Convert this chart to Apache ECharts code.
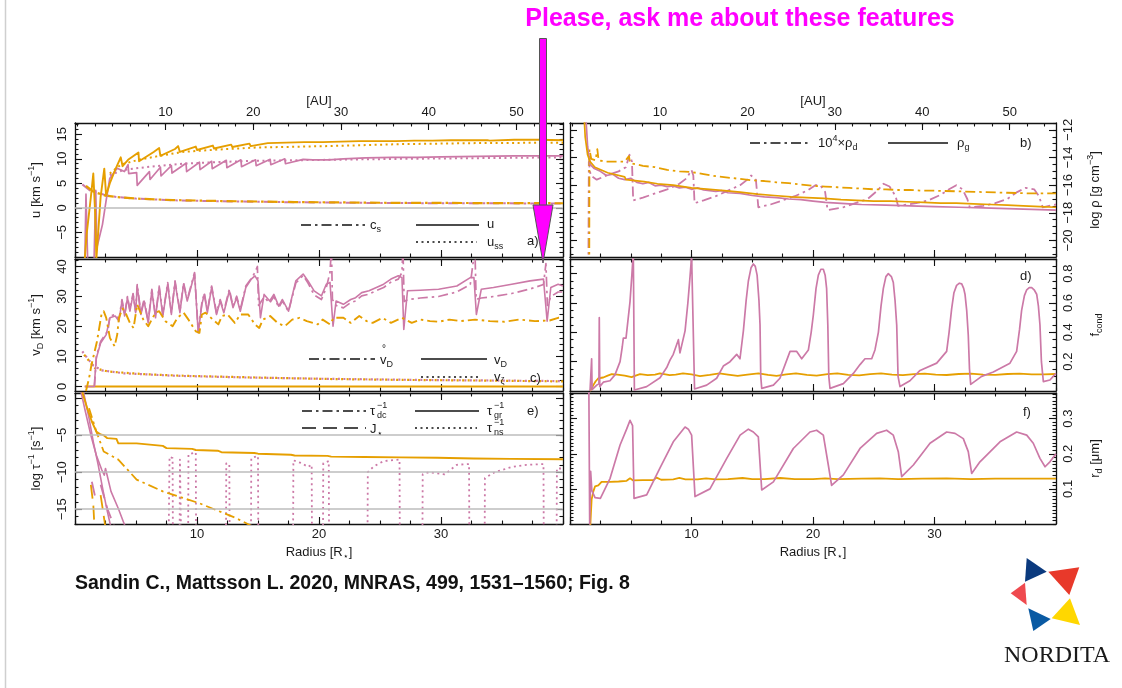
<!DOCTYPE html>
<html>
<head>
<meta charset="utf-8">
<script src="https://cdn.jsdelivr.net/npm/echarts@6/dist/echarts.min.js"></script>
<style>
html,body{margin:0;padding:0;background:#fff;}
#chart{width:1122px;height:688px;}
</style>
</head>
<body>
<div id="chart"></div>
<script>
// ---------- colours and fonts ----------
const ORANGE = '#E69F00';
const PINK = '#CC79A7';
const FONT = '"Liberation Sans", Arial, Helvetica, sans-serif';
const INK = '#1a1a1a';

// ---------- axis ranges and tick labels ----------
const radiusRange = [0, 40];
const radiusTicks = [10, 20, 30];
const auRange = [-0.3, 55.3];
const auTicks = [10, 20, 30, 40, 50];
const uRange = [-10, 17.3];       const uTicks = [-5, 0, 5, 10, 15];
const rhoRange = [-21.2, -11.5];  const rhoTicks = [-20, -18, -16, -14, -12];
const vdRange = [-1.5, 42.5];     const vdTicks = [0, 10, 20, 30, 40];
const fcondRange = [0, 0.9];      const fcondTicks = [0.2, 0.4, 0.6, 0.8];
const tauRange = [-17, 0.7];      const tauTicks = [0, -5, -10, -15];
const rdRange = [0, 0.373];       const rdTicks = [0.1, 0.2, 0.3];
const uRefLines = [0];
const tauRefLines = [-5, -10, -15];

// ---------- a) gas velocity ----------
const uOrange = [[0.75,-12],[0.95,-5.5],[1.3,2.2],[1.5,7],[1.65,-1],[1.75,-10.5],[2.1,2.2],[2.4,8],[2.55,2.5],[2.85,5],[3.3,7.8],[3.75,10.3],[3.9,8.5],[4.35,9.8],[5.2,11.3],[5.25,9.5],[6.45,11.4],[6.9,12.2],[7.0,10.6],[8.2,12],[8.45,12.6],[8.6,11.4],[9.9,12.5],[10.0,11.8],[11.3,12.7],[11.4,12.1],[12.8,12.9],[12.9,12.4],[14.3,13.1],[14.4,12.6],[15.8,13.2],[15.9,12.8],[17.3,13.3],[17.4,12.9],[18.8,13.4],[18.9,13.0],[20.3,13.4],[20.4,13.1],[21.8,13.5],[21.9,13.2],[23.3,13.6],[23.4,13.3],[24.8,13.6],[24.9,13.4],[26.3,13.6],[26.4,13.4],[27.8,13.7],[27.9,13.5],[29.3,13.7],[29.4,13.5],[30.8,13.8],[30.9,13.6],[32.3,13.8],[32.4,13.6],[33.8,13.8],[34.0,13.7],[36,13.9],[38,13.9],[40,13.8]];
const uPink = [[0.8,-12],[0.9,2.8],[1.05,-12],[1.55,-12],[1.7,3.6],[1.8,-8],[2.25,-3.4],[2.55,1.5],[2.85,6],[3.45,8.1],[4.05,7.4],[4.35,8.8],[4.4,7],[5.05,7.2],[5.1,4.6],[6.1,7.4],[6.15,5.8],[7.0,8.3],[7.05,6.5],[7.9,8.6],[7.95,7.1],[9.1,9.1],[9.15,7.4],[10.2,9.3],[10.25,7.8],[11.2,9.5],[11.25,8.0],[12.4,9.7],[12.45,8.2],[13.6,9.8],[13.65,8.4],[14.8,9.8],[14.85,8.6],[16.0,9.9],[16.05,8.8],[17.2,10.0],[17.25,9.0],[18.7,9.9],[19.5,9.8],[20.8,9.8],[22,10.0],[23.8,10.2],[26,10.3],[28,10.3],[30,10.4],[33,10.5],[36,10.6],[40,10.6]];
const ussOrange = [[2.85,7],[3.75,8.8],[5.2,9.8],[6.7,10.5],[8.8,11.4],[11.8,11.9],[14.8,12.3],[20.8,12.6],[26.8,13.0],[32.8,13.2],[40,13.3]];
const ussPink = [[2.85,6.7],[4.0,7.75],[5.8,8.3],[8.8,9.0],[11.8,9.35],[14.8,9.6],[20.8,9.8],[26.8,10.0],[40,10.3]];
const csOrange = [[0.9,4.5],[1.5,3.3],[2.5,2.5],[3.5,2.2],[5,1.9],[8,1.6],[12,1.4],[18,1.2],[25,1.05],[32,1.0],[40,0.95]];
const csPink = [[0.6,4.8],[1.2,3.6],[2.5,2.6],[3.5,2.2],[5,1.9],[8,1.55],[12,1.35],[18,1.15],[25,1.0],[32,0.95],[40,0.9]];

// ---------- b) densities ----------
const rhoGasOrange = [[1.1,-10],[1.25,-12.5],[1.45,-13.8],[1.65,-14.3],[2.05,-14.7],[3.1,-15.1],[3.2,-15.2],[4.5,-15.4],[4.6,-15.6],[6.1,-15.75],[6.2,-15.85],[7.2,-15.9],[8.5,-16],[10,-16.2],[11.5,-16.3],[12.7,-16.4],[14,-16.5],[15.4,-16.65],[16.8,-16.75],[18.2,-16.85],[19.5,-16.9],[20.9,-16.95],[22.3,-17.05],[23.6,-17.1],[25,-17.15],[26.4,-17.15],[27.7,-17.2],[29.1,-17.25],[30.5,-17.3],[31.8,-17.3],[33.2,-17.35],[34.6,-17.4],[36,-17.45],[37.3,-17.5],[38.7,-17.55],[40,-17.6]];
const rhoGasPink = [[1.3,-11],[1.45,-13.2],[1.65,-14.5],[2,-14.8],[2.5,-15],[3,-15.3],[3.5,-15.2],[4,-15.5],[4.5,-15.6],[5,-15.5],[5.5,-15.8],[6,-15.9],[6.5,-15.8],[7,-16.05],[7.5,-16],[8,-16.1],[8.5,-16.05],[9,-16.2],[9.5,-16.15],[10,-16.3],[10.5,-16.2],[11,-16.35],[12,-16.45],[12.5,-16.4],[13,-16.55],[14,-16.6],[15,-16.75],[16,-16.85],[17,-16.9],[18,-17.0],[19,-17.05],[20,-17.15],[21,-17.25],[22,-17.3],[23,-17.35],[24,-17.4],[26,-17.45],[28,-17.5],[30,-17.55],[32,-17.6],[34,-17.65],[36,-17.7],[38,-17.75],[40,-17.8]];
const rhoDustOrange = [[1.58,-25],[1.6,-13.4],[1.75,-14.1],[2.1,-14.2],[2.25,-13.4],[2.35,-14.2],[3,-14.3],[4.5,-14.3],[4.85,-13.9],[4.95,-14.4],[6,-14.6],[7,-14.7],[8,-14.9],[9,-15.0],[10,-15.05],[11,-15.2],[12,-15.35],[13,-15.45],[14,-15.55],[15,-15.65],[16,-15.7],[17,-15.8],[18,-15.85],[19,-15.95],[20,-16.05],[21,-16.1],[22,-16.15],[23,-16.2],[24,-16.25],[25,-16.3],[26,-16.3],[27,-16.35],[28,-16.35],[29,-16.4],[30,-16.4],[32,-16.45],[34,-16.5],[36,-16.55],[38,-16.6],[40,-16.6]];
const rhoDustPink = [[1.5,-25],[1.55,-14.3],[1.7,-15.3],[2.2,-15.6],[3.0,-15.3],[4.0,-15.0],[4.6,-14.7],[4.9,-13.8],[5.1,-14.3],[5.2,-17.1],[6,-16.9],[7,-16.6],[8,-16.3],[9,-15.9],[9.6,-15.5],[10.0,-14.9],[10.15,-15.3],[10.25,-17.3],[11,-17.1],[12,-16.8],[13,-16.4],[14,-16.0],[14.6,-15.6],[14.9,-15.3],[15.3,-15.6],[15.5,-17.6],[16.5,-17.4],[17.5,-17.1],[18.5,-16.8],[19.5,-16.4],[20.2,-16.0],[20.6,-16.0],[21.0,-16.5],[21.2,-17.8],[22.5,-17.6],[23.5,-17.3],[24.5,-17],[25.3,-16.4],[25.8,-15.9],[26.3,-16.1],[26.8,-16.8],[27.0,-17.5],[28.5,-17.3],[29.5,-17.1],[30.5,-16.7],[31.2,-16.3],[31.8,-16.0],[32.3,-16.3],[32.7,-17],[32.9,-17.6],[34,-17.5],[35,-17.3],[36,-17.0],[36.8,-16.5],[37.5,-16.2],[38.2,-16.3],[38.6,-16.8],[38.9,-17.6],[40,-17.4]];

// ---------- c) drift velocities ----------
const vdPink = [[0.8,0],[1.57,0],[1.75,9.5],[2.1,14.5],[2.56,17.3],[2.7,17.9],[2.86,22.9],[3.3,23.5],[3.6,21.8],[3.85,28.5],[4.07,23.5],[4.3,29.6],[4.5,25.1],[4.76,30.7],[4.97,24.6],[5.1,33.5],[5.4,24],[5.66,28.5],[6.0,21.2],[6.3,31.9],[6.6,22.9],[6.9,33],[7.2,23.5],[7.6,34.1],[7.9,24],[8.2,34.7],[8.6,24.6],[8.9,34.1],[9.2,28.5],[9.5,33],[9.8,37.5],[10.1,17.9],[10.4,27.4],[10.6,30.7],[10.85,24.6],[11.2,33],[11.6,24],[11.9,28.5],[12.2,24.6],[12.65,31.9],[12.95,26.3],[13.25,29.6],[13.55,25.1],[14,33],[14.45,35.8],[14.75,36.9],[15,35.2],[15.2,22.9],[15.5,30.7],[15.96,28.5],[16.3,30.7],[16.7,26.8],[17,29],[17.5,25.1],[18.1,35.2],[18.7,37.5],[19.1,35.2],[19.6,31.9],[20.2,30.2],[20.6,34.1],[20.9,34.7],[21.15,20.1],[21.4,28.5],[22,27.4],[22.6,29],[23,29.6],[23.5,31.3],[24.1,31.9],[24.7,33],[25.3,34.1],[25.9,35.8],[26.5,36.9],[26.8,36.3],[26.95,19],[27.25,31.9],[28.3,32.1],[29.8,32.4],[31.3,33.5],[32.4,36.3],[32.7,36.3],[32.9,24],[33.3,32.4],[34.3,33],[35.8,34.1],[37.3,35.2],[38.4,35.8],[38.7,21.8],[39,33],[39.6,34.1],[40,33.5]];
const vdRingPink = [[1.6,0],[1.75,10],[2.1,15],[2.56,17.8],[2.7,18.5],[2.86,23.5],[3.3,24],[3.6,22.3],[3.85,29],[4.07,24],[4.3,30],[4.5,25.5],[4.76,31],[4.97,25],[5.1,34],[5.4,24.5],[5.66,29],[6.0,21.7],[6.3,32.4],[6.6,23.4],[6.9,33.5],[7.2,24],[7.6,34.6],[7.9,24.5],[8.2,35.2],[8.6,25.1],[8.9,34.6],[9.2,29],[9.5,33.5],[9.8,38],[10.1,18.4],[10.4,27.9],[10.6,31.2],[10.85,25.1],[11.2,33.5],[11.6,24.5],[11.9,29],[12.2,25.1],[12.65,32.4],[12.95,26.8],[13.25,30.1],[13.55,25.6],[14,33.5],[14.45,36],[14.75,38],[14.95,40],[15.05,27],[15.5,29.8],[15.96,27.8],[16.3,30],[16.7,26.3],[17,28.5],[17.5,25],[18.1,34.5],[18.7,37],[19.1,34.5],[19.6,30.5],[20.2,29],[20.6,33],[20.9,38],[21.02,46],[21.1,29],[21.4,27],[22,26.2],[22.6,28],[23,28.5],[23.5,30.2],[24.1,30.8],[24.7,32],[25.3,33],[25.9,34.8],[26.5,35.8],[26.8,38],[26.88,46],[26.98,28.3],[27.3,29],[28.3,29.5],[29.8,30],[31.3,31.5],[32.4,34],[32.78,46],[32.88,29],[33.3,29.5],[34.3,30],[35.8,31],[37.3,32.5],[38.4,34],[38.6,41],[38.72,27],[39,30],[39.6,31.5],[40,31.5]];
const vdRingOrange = [[0.9,-1.5],[1.15,2.7],[1.35,7.2],[1.8,15],[2.17,24],[2.35,25.1],[2.56,22.9],[2.86,16.2],[3.25,13.4],[3.46,17.3],[3.6,22.9],[3.9,26],[4.2,24],[4.5,21.2],[4.8,19.5],[5.1,27.4],[5.6,22.3],[6.0,20.1],[6.6,24.6],[6.9,25.1],[7.4,21.8],[8.0,20.1],[8.4,22.9],[8.9,24.6],[9.3,22.3],[9.9,18.4],[10.2,17.9],[10.4,24],[10.7,24.6],[11.3,22.3],[11.75,20.7],[12.05,23.5],[12.5,24],[13.1,21.2],[13.55,24],[14.2,24],[14.75,20.7],[15.1,19.5],[15.4,22.3],[16,23.5],[16.6,21.2],[17.2,20.1],[17.8,22.3],[18.4,22.9],[19,21.8],[19.9,20.7],[20.3,22.3],[20.9,20.7],[21.2,22.9],[22,22.9],[22.6,21.2],[23.3,23.5],[23.9,21.8],[24.4,21.2],[25.2,22.9],[25.9,21.2],[26.8,22.9],[27.6,21.2],[28.3,22.3],[29.1,21.8],[29.8,21.6],[30.7,22.3],[31.6,21.8],[32.8,22.3],[34,21.8],[35.2,21.6],[36.4,22.3],[37.7,21.8],[38.9,22],[39.6,22.9],[40,23]];
const vdOrange = [[0.8,0],[10,0],[20,0],[30,0],[40,0]];
const vzOrange = [[0.75,10.6],[1.2,8.3],[1.65,6.1],[2.7,5.0],[5.7,4.1],[8.7,3.6],[14.8,3.0],[20.8,2.5],[26.8,2.2],[32.8,2.0],[40,1.7]];
const vzPink = [[0.6,11.7],[1.0,9.5],[1.5,7.0],[2.2,5.4],[4,4.4],[8,3.6],[14,3.0],[20,2.6],[28,2.2],[40,1.8]];

// ---------- d) degree of condensation ----------
const fcondOrange = [[1.65,0],[1.8,0.02],[1.92,0.04],[2.1,0.065],[2.33,0.087],[2.74,0.092],[3.1,0.105],[3.43,0.115],[3.9,0.112],[4.5,0.105],[5.07,0.095],[5.4,0.105],[5.76,0.115],[6.4,0.108],[7.0,0.112],[7.4,0.12],[8.2,0.108],[8.7,0.112],[9.3,0.12],[10.0,0.113],[10.7,0.102],[11.5,0.11],[12.3,0.12],[13.0,0.112],[13.8,0.103],[14.6,0.112],[15.5,0.12],[16.3,0.11],[17.0,0.103],[17.8,0.113],[18.6,0.12],[19.5,0.11],[20.3,0.105],[21.2,0.115],[22.0,0.12],[22.9,0.11],[23.8,0.106],[24.7,0.115],[25.6,0.12],[26.5,0.112],[27.4,0.108],[28.3,0.115],[29.2,0.119],[30.1,0.112],[31.0,0.109],[32,0.116],[33,0.118],[34,0.112],[35,0.11],[36,0.116],[37,0.118],[38,0.114],[39,0.113],[40,0.116]];
const fcondPink = [[1.65,0],[1.75,0.01],[1.78,0.22],[1.82,0.01],[2.2,0.04],[2.38,0.05],[2.41,0.5],[2.45,0.03],[2.74,0.06],[3.29,0.07],[3.7,0.11],[4.12,0.2],[4.3,0.3],[4.39,0.36],[4.61,0.36],[4.94,0.61],[5.1,0.8],[5.21,0.95],[5.27,0.95],[5.3,0.007],[6.31,0.03],[7.41,0.09],[7.96,0.16],[8.23,0.21],[8.5,0.25],[8.92,0.35],[9.05,0.26],[9.47,0.41],[9.7,0.6],[9.88,0.78],[10.01,0.92],[10.15,0.92],[10.25,0.014],[11.25,0.04],[12.07,0.087],[12.62,0.17],[13.17,0.2],[13.72,0.25],[13.99,0.22],[14.27,0.41],[14.5,0.62],[14.68,0.75],[14.9,0.84],[15.09,0.866],[15.25,0.85],[15.4,0.79],[15.55,0.62],[15.64,0.45],[15.7,0.1],[15.78,0.018],[16.74,0.04],[17.28,0.087],[18.11,0.27],[18.66,0.27],[19.07,0.22],[19.62,0.28],[19.85,0.4],[20.03,0.52],[20.25,0.7],[20.44,0.79],[20.65,0.83],[20.85,0.83],[21.0,0.79],[21.12,0.7],[21.22,0.45],[21.3,0.1],[21.4,0.018],[22.5,0.05],[23.32,0.12],[23.87,0.18],[24.28,0.22],[24.83,0.22],[25.1,0.28],[25.38,0.4],[25.6,0.58],[25.79,0.7],[26.0,0.78],[26.2,0.8],[26.45,0.78],[26.61,0.74],[26.75,0.62],[26.89,0.45],[27.0,0.1],[27.16,0.03],[27.98,0.07],[28.81,0.14],[30.18,0.19],[31.0,0.27],[31.2,0.4],[31.41,0.56],[31.6,0.67],[31.82,0.72],[32.05,0.735],[32.24,0.73],[32.4,0.7],[32.51,0.66],[32.65,0.55],[32.78,0.38],[32.88,0.15],[32.98,0.045],[33.88,0.1],[34.84,0.13],[36.21,0.19],[36.76,0.27],[37.0,0.42],[37.17,0.55],[37.4,0.65],[37.59,0.69],[37.8,0.705],[38.0,0.705],[38.2,0.69],[38.41,0.66],[38.55,0.58],[38.68,0.45],[38.8,0.2],[38.96,0.064],[39.5,0.075],[40,0.12]];

// ---------- e) rates ----------
const tauGrOrange = [[0.6,0.8],[1.0,-1.35],[1.38,-3.15],[1.74,-4.5],[2.1,-4.9],[2.35,-5.0],[2.65,-5.4],[3.4,-5.5],[3.55,-6.1],[5.05,-6.1],[5.2,-6.3],[7.2,-6.45],[7.5,-6.75],[9.6,-6.85],[9.9,-7.0],[11.7,-7.1],[12.0,-7.3],[14.7,-7.4],[15.0,-7.5],[17.7,-7.65],[18.0,-7.75],[20.7,-7.8],[21.0,-7.9],[23.7,-7.95],[26.7,-8.0],[29.7,-8.05],[32.7,-8.15],[35.7,-8.2],[40,-8.25]];
const tauDcOrange = [[1.15,-1.35],[1.75,-4.5],[2.35,-7.2],[2.8,-7.6],[3.55,-8.3],[5.05,-11.0],[7.2,-12.6],[8.7,-13.4],[10.2,-14.2],[11.7,-15.2],[13.2,-16.2],[14.4,-17.2]];
const tauGrPinkInner = [[0.5,0.8],[0.85,-1.8],[1.3,-5.0],[1.75,-7.7],[2.2,-9.7],[2.4,-10.4],[2.5,-9.5],[2.95,-12.6],[3.55,-14.9],[4.15,-17.5]];
const tauGrPinkOuter = [[0.7,0.8],[1.15,-2.7],[1.5,-5.9],[1.9,-9.0],[2.3,-12.5],[2.65,-15.3],[2.95,-17.5]];
const jStarOrangeA = [[1.3,-11.7],[1.5,-14.4],[1.6,-17.5]];
const jStarOrangeB = [[2.1,-13.1],[2.5,-17.5]];
const jStarPinkA = [[1.38,-11.3],[1.7,-13.7]];
const jStarPinkB = [[2.1,-11.7],[2.65,-14.9],[3.25,-17.5]];
const tauNsPink = [[7.6,-30],[7.75,-7.9],[8.0,-8.1],[8.05,-30],[8.55,-30],[8.6,-8.3],[8.75,-8.4],[8.8,-30],[9.25,-30],[9.3,-7.6],[9.9,-7.3],[9.95,-30],[12.35,-30],[12.4,-8.8],[12.65,-8.9],[12.7,-30],[14.4,-30],[14.45,-8.1],[15.0,-7.8],[15.05,-30],[17.85,-30],[17.9,-8.4],[18.6,-8.8],[19.1,-9.3],[19.4,-9.0],[19.45,-30],[20.3,-30],[20.35,-8.8],[20.8,-8.5],[20.85,-30],[23.95,-30],[24.0,-10.0],[24.5,-9.2],[25.3,-8.5],[26.6,-8.3],[26.65,-30],[28.45,-30],[28.5,-10.3],[29.0,-10.0],[30.3,-10.3],[31.3,-9.0],[32.3,-8.9],[32.35,-30],[33.55,-30],[33.6,-10.8],[34.4,-10.0],[35.8,-9.3],[37.0,-9.0],[38.4,-8.9],[38.45,-30],[39.45,-30],[39.5,-9.5],[40,-9.5]];

// ---------- f) grain radius ----------
const rdOrange = [[1.65,-0.02],[1.72,0.03],[1.78,0.07],[1.92,0.093],[2.06,0.107],[2.33,0.11],[2.6,0.12],[3.3,0.12],[4.0,0.121],[4.66,0.123],[4.94,0.13],[5.2,0.124],[6.0,0.125],[6.86,0.125],[7.13,0.132],[7.5,0.126],[8.5,0.127],[9.0,0.131],[9.5,0.127],[10.5,0.127],[11.2,0.13],[12,0.127],[13,0.128],[14.2,0.131],[15,0.128],[16,0.128],[17.3,0.131],[18.5,0.128],[20,0.128],[21,0.13],[22,0.128],[24,0.129],[25.5,0.13],[27,0.128],[29,0.129],[31,0.13],[33,0.128],[35,0.129],[37,0.129],[40,0.129]];
const rdPink = [[1.55,0.4],[1.62,0.0],[1.7,0.15],[1.8,0.095],[2.06,0.075],[2.5,0.073],[3.3,0.13],[4.12,0.225],[4.66,0.27],[4.94,0.295],[5.15,0.28],[5.27,0.073],[6.31,0.083],[7.41,0.16],[8.5,0.234],[9.47,0.276],[9.74,0.27],[10.01,0.253],[10.29,0.078],[11.52,0.1],[12.9,0.187],[14.0,0.253],[14.68,0.27],[15.09,0.262],[15.5,0.248],[15.78,0.097],[16.74,0.12],[18.38,0.215],[19.75,0.262],[20.3,0.267],[20.85,0.253],[21.26,0.168],[21.53,0.11],[22.5,0.14],[23.87,0.215],[25.24,0.258],[26.06,0.267],[26.61,0.253],[27.02,0.206],[27.3,0.135],[28.26,0.168],[29.63,0.23],[31.0,0.262],[31.69,0.258],[32.37,0.243],[32.78,0.206],[33.06,0.144],[33.74,0.177],[35.39,0.234],[36.76,0.262],[37.59,0.253],[38.13,0.23],[38.68,0.187],[39.1,0.163],[39.5,0.177],[40,0.2]];

// ---------- helpers ----------
const fmt = v => (v < 0 ? '\u2212' + Math.abs(v) : String(v));
function steps(min, max, step) {
  const out = [];
  const start = Math.ceil(min / step - 1e-9) * step;
  for (let v = start; v <= max + 1e-9; v += step) out.push(Math.round(v * 1e6) / 1e6);
  return out;
}
const RICH_AXIS = {
  t: { fontSize: 13, fontFamily: FONT, color: INK, lineHeight: 18 },
  s: { fontSize: 9, fontFamily: FONT, color: INK, verticalAlign: 'bottom', lineHeight: 10 },
  p: { fontSize: 9, fontFamily: FONT, color: INK, verticalAlign: 'top', lineHeight: 10 }
};
const RICH_G = {
  t: { fontSize: 13, fontFamily: FONT, fill: INK, color: INK, lineHeight: 18 },
  s: { fontSize: 9, fontFamily: FONT, fill: INK, color: INK, verticalAlign: 'bottom', lineHeight: 10 },
  p: { fontSize: 9, fontFamily: FONT, fill: INK, color: INK, verticalAlign: 'top', lineHeight: 10 }
};

function axis(o) {
  const a = {
    type: 'value', gridIndex: o.grid, position: o.pos, min: o.range[0], max: o.range[1],
    axisLine: { show: !!o.line, onZero: false, lineStyle: { color: '#111', width: 1.3 } },
    axisTick: { show: true, inside: true, length: o.len, customValues: o.ticks, lineStyle: { color: '#111', width: 1.1 } },
    minorTick: { show: false }, splitLine: { show: false }, splitArea: { show: false },
    axisLabel: { show: false }, axisPointer: { show: false }, silent: true
  };
  if (o.labels) {
    a.axisLabel = { show: true, customValues: o.labels, formatter: fmt, rotate: o.rotate || 0, margin: o.margin,
      color: INK, fontSize: 13, fontFamily: FONT };
  }
  if (o.name) {
    a.name = o.name; a.nameLocation = 'middle'; a.nameGap = o.nameGap; a.nameRotate = o.nameRotate || 0;
    a.nameTextStyle = { rich: RICH_AXIS, fontSize: 13, fontFamily: FONT, color: INK };
    if (o.freeName) a.nameMoveOverlap = false;
  }
  return a;
}

// ---------- panel layout ----------
const cols = [{ left: 75, width: 488 }, { left: 570, width: 486 }];
const rows = [{ top: 123, height: 134 }, { top: 259, height: 132 }, { top: 393, height: 131 }];
const panels = [
  { row: 0, col: 0, range: uRange, ticks: uTicks, minor: 1, side: 'left', au: true,
    name: '{t|u [km s}{p|\u22121}{t|]}' },
  { row: 0, col: 1, range: rhoRange, ticks: rhoTicks, minor: 0.5, side: 'right', au: true,
    name: '{t|log \u03c1 [g cm}{p|\u22123}{t|]}' },
  { row: 1, col: 0, range: vdRange, ticks: vdTicks, minor: 2, side: 'left',
    name: '{t|v}{s|D}{t| [km s}{p|\u22121}{t|]}' },
  { row: 1, col: 1, range: fcondRange, ticks: fcondTicks, minor: 0.05, side: 'right',
    name: '{t|f}{s|cond}' },
  { row: 2, col: 0, range: tauRange, ticks: tauTicks, minor: 1, side: 'left', bottomLabels: true,
    name: '{t|log \u03c4}{p|\u22121}{t| [s}{p|\u22121}{t|]}' },
  { row: 2, col: 1, range: rdRange, ticks: rdTicks, minor: 0.01, side: 'right', bottomLabels: true,
    name: '{t|r}{s|d}{t| [\u03bcm]}' }
];

const grids = [], xAxes = [], yAxes = [];
const radiusMinor = steps(radiusRange[0], radiusRange[1], 2.5);
const auMinor = steps(0, auRange[1], 2);
panels.forEach((p, i) => {
  grids.push({ left: cols[p.col].left, width: cols[p.col].width, top: rows[p.row].top, height: rows[p.row].height, show: false });
  // bottom radius axis
  xAxes.push(axis({ grid: i, pos: 'bottom', range: radiusRange, ticks: [0, ...radiusTicks, 40], len: 7, line: true,
    labels: p.bottomLabels ? radiusTicks : null, margin: 4,
    name: p.bottomLabels ? '{t|Radius [R}{s|\u22c6}{t|]}' : null, nameGap: 19 }));
  xAxes.push(axis({ grid: i, pos: 'bottom', range: radiusRange, ticks: radiusMinor, len: 3.5 }));
  // top axis: AU scale on the first row, mirrored radius ticks below it
  if (p.au) {
    xAxes.push(axis({ grid: i, pos: 'top', range: auRange, ticks: auTicks, len: 7, line: true,
      labels: auTicks, margin: 4, name: '{t|[AU]}', nameGap: 13, freeName: true }));
    xAxes.push(axis({ grid: i, pos: 'top', range: auRange, ticks: auMinor, len: 3.5 }));
  } else {
    xAxes.push(axis({ grid: i, pos: 'top', range: radiusRange, ticks: [0, ...radiusTicks, 40], len: 7, line: true }));
    xAxes.push(axis({ grid: i, pos: 'top', range: radiusRange, ticks: radiusMinor, len: 3.5 }));
  }
  const minorVals = steps(p.range[0], p.range[1], p.minor);
  ['left', 'right'].forEach(side => {
    const main = side === p.side;
    yAxes.push(axis({ grid: i, pos: side, range: p.range, ticks: p.ticks, len: 7, line: true,
      labels: main ? p.ticks : null, rotate: 90, margin: 6,
      name: main ? p.name : null, nameGap: 30, nameRotate: 90 }));
    yAxes.push(axis({ grid: i, pos: side, range: p.range, ticks: minorVals, len: 3.5 }));
  });
});

const DASH = { solid: 'solid', dot: [2, 3.5], dashdot: [10, 4, 2.5, 4], dash: [14, 7] };
function curve(panel, data, color, dash, width, z) {
  return {
    type: 'line', xAxisIndex: panel * 4, yAxisIndex: panel * 4, data,
    symbol: 'none', showSymbol: false, silent: true, animation: false, clip: true, z: z || 2,
    lineStyle: { color, width: width || 1.7, type: DASH[dash || 'solid'], cap: 'butt', join: 'round' }
  };
}
function refLines(panel, values) {
  return {
    type: 'line', xAxisIndex: panel * 4, yAxisIndex: panel * 4, data: [], silent: true, animation: false, z: 1,
    markLine: { silent: true, symbol: ['none', 'none'], label: { show: false }, animation: false,
      lineStyle: { color: '#bdbdbd', width: 1.5, type: 'solid' }, data: values.map(v => ({ yAxis: v })) }
  };
}

const series = [
  // a)
  refLines(0, uRefLines),
  curve(0, csPink, PINK, 'dashdot', 2),
  curve(0, csOrange, ORANGE, 'dashdot', 2.2),
  curve(0, ussPink, PINK, 'dot', 2),
  curve(0, ussOrange, ORANGE, 'dot', 2),
  curve(0, uPink, PINK, 'solid', 1.7),
  curve(0, uOrange, ORANGE, 'solid', 1.9),
  // b)
  curve(1, rhoDustPink, PINK, 'dashdot', 1.8),
  curve(1, rhoDustOrange, ORANGE, 'dashdot', 1.8),
  curve(1, rhoGasPink, PINK, 'solid', 1.7),
  curve(1, rhoGasOrange, ORANGE, 'solid', 1.7),
  // c)
  curve(2, vzPink, PINK, 'dot', 2.2),
  curve(2, vzOrange, ORANGE, 'dot', 2.2),
  curve(2, vdOrange, ORANGE, 'solid', 1.8),
  curve(2, vdRingPink, PINK, 'dashdot', 1.7),
  curve(2, vdPink, PINK, 'solid', 1.6),
  curve(2, vdRingOrange, ORANGE, 'dashdot', 1.9),
  // d)
  curve(3, fcondOrange, ORANGE, 'solid', 1.8),
  curve(3, fcondPink, PINK, 'solid', 1.7),
  // e)
  refLines(4, tauRefLines),
  curve(4, tauNsPink, PINK, 'dot', 1.8),
  curve(4, jStarPinkA, PINK, 'dash', 1.8),
  curve(4, jStarPinkB, PINK, 'dash', 1.8),
  curve(4, jStarOrangeA, ORANGE, 'dash', 1.8),
  curve(4, jStarOrangeB, ORANGE, 'dash', 1.8),
  curve(4, tauGrPinkInner, PINK, 'solid', 1.6),
  curve(4, tauGrPinkOuter, PINK, 'solid', 1.6),
  curve(4, tauDcOrange, ORANGE, 'dashdot', 1.8),
  curve(4, tauGrOrange, ORANGE, 'solid', 1.9),
  // f)
  curve(5, rdOrange, ORANGE, 'solid', 1.8),
  curve(5, rdPink, PINK, 'solid', 1.7)
];

// ---------- in-panel keys, panel letters and page texts ----------
function keyLine(x1, x2, y, dash) {
  return { type: 'line', silent: true, z: 20,
    shape: { x1, y1: y, x2, y2: y },
    style: { stroke: '#111', lineWidth: 1.5, lineDash: dash === 'solid' ? null : DASH[dash] } };
}
function richText(x, y, text, align) {
  return { type: 'text', x, y, silent: true, z: 20,
    style: { text, rich: RICH_G, fill: INK, font: '13px ' + FONT,
      align: align || 'left', verticalAlign: 'middle', textAlign: align || 'left', textVerticalAlign: 'middle' } };
}
function plain(x, y, text, font, fill, align) {
  return { type: 'text', x, y, silent: true, z: 20,
    style: { text, font, fill, align: align || 'left', verticalAlign: 'middle',
      textAlign: align || 'left', textVerticalAlign: 'middle' } };
}
// tau with a stacked superscript and subscript
function tauLabel(x, y, sub) {
  return [
    plain(x, y, '\u03c4', '13px ' + FONT, INK),
    plain(x + 7, y - 5, '\u22121', '9px ' + FONT, INK),
    plain(x + 7, y + 5, sub, '9px ' + FONT, INK)
  ];
}

const graphics = [
  // page frame line
  { type: 'line', silent: true, shape: { x1: 5.5, y1: 0, x2: 5.5, y2: 688 }, style: { stroke: '#cfcfcf', lineWidth: 1.5 } },
  // key a)
  keyLine(301, 365, 225, 'dashdot'), richText(370, 225, '{t|c}{s|s}'),
  keyLine(416, 479, 225, 'solid'), richText(487, 224, '{t|u}'),
  keyLine(416, 477, 242, 'dot'), richText(487, 242, '{t|u}{s|ss}'),
  plain(527, 241, 'a)', '13px ' + FONT, INK),
  // key b)
  keyLine(750, 810, 143, 'dashdot'), richText(818, 143, '{t|10}{p|4}{t|\u00d7\u03c1}{s|d}'),
  keyLine(888, 948, 143, 'solid'), richText(957, 143, '{t|\u03c1}{s|g}'),
  plain(1020, 143, 'b)', '13px ' + FONT, INK),
  // key c)
  keyLine(309, 375, 359, 'dashdot'), richText(380, 360, '{t|v}{s|D}'),
  plain(384, 349, '\u00b0', '10px ' + FONT, INK, 'center'),
  keyLine(421, 487, 359, 'solid'), richText(494, 360, '{t|v}{s|D}'),
  keyLine(421, 481, 377, 'dot'), richText(494, 377, '{t|v}{s|\u03b6}'),
  plain(530, 378, 'c)', '13px ' + FONT, INK),
  // d) and f)
  plain(1020, 276, 'd)', '13px ' + FONT, INK),
  plain(1023, 412, 'f)', '13px ' + FONT, INK),
  // key e)
  keyLine(302, 366, 411, 'dashdot'), ...tauLabel(370, 411, 'dc'),
  keyLine(415, 479, 411, 'solid'), ...tauLabel(487, 411, 'gr'),
  keyLine(302, 366, 428, 'dash'), richText(370, 429, '{t|J}{s|\u22c6}'),
  keyLine(415, 477, 428, 'dot'), ...tauLabel(487, 428, 'ns'),
  plain(527, 411, 'e)', '13px ' + FONT, INK),
  // headline and pointer
  plain(740, 19, 'Please, ask me about these features', 'bold 25px ' + FONT, '#FF00FF', 'center'),
  { type: 'rect', silent: true, z: 30, shape: { x: 539.5, y: 38.5, width: 7, height: 168 },
    style: { fill: '#FF00FF', stroke: '#555', lineWidth: 1 } },
  { type: 'polygon', silent: true, z: 30, shape: { points: [[533, 205], [553, 205], [543, 263]] },
    style: { fill: '#FF00FF', stroke: '#555', lineWidth: 1 } },
  // reference line
  plain(75, 584, 'Sandin C., Mattsson L. 2020, MNRAS, 499, 1531\u20131560; Fig. 8', 'bold 19.5px ' + FONT, '#111'),
  // logo
  { type: 'polygon', silent: true, shape: { points: [[1026.7, 558], [1046.7, 571.7], [1025, 581.7]] }, style: { fill: '#0b3a7e' } },
  { type: 'polygon', silent: true, shape: { points: [[1048.3, 571.7], [1079.3, 567.3], [1069.3, 595]] }, style: { fill: '#e8392a' } },
  { type: 'polygon', silent: true, shape: { points: [[1010.7, 593.3], [1025, 582.7], [1026.7, 605]] }, style: { fill: '#ef4a4f' } },
  { type: 'polygon', silent: true, shape: { points: [[1028.3, 608.3], [1050.7, 619], [1033.3, 631]] }, style: { fill: '#0a5aa3' } },
  { type: 'polygon', silent: true, shape: { points: [[1051.7, 618.3], [1070, 598.3], [1080, 625]] }, style: { fill: '#ffd700' } },
  plain(1057, 656, 'NORDITA', '24px "Liberation Serif", "Times New Roman", serif', '#1a1a1a', 'center')
];

const chart = echarts.init(document.getElementById('chart'), null, { renderer: 'canvas' });
chart.setOption({
  animation: false,
  backgroundColor: '#ffffff',
  textStyle: { fontFamily: FONT },
  grid: grids,
  xAxis: xAxes,
  yAxis: yAxes,
  series,
  graphic: { elements: graphics }
});
</script>
</body>
</html>
